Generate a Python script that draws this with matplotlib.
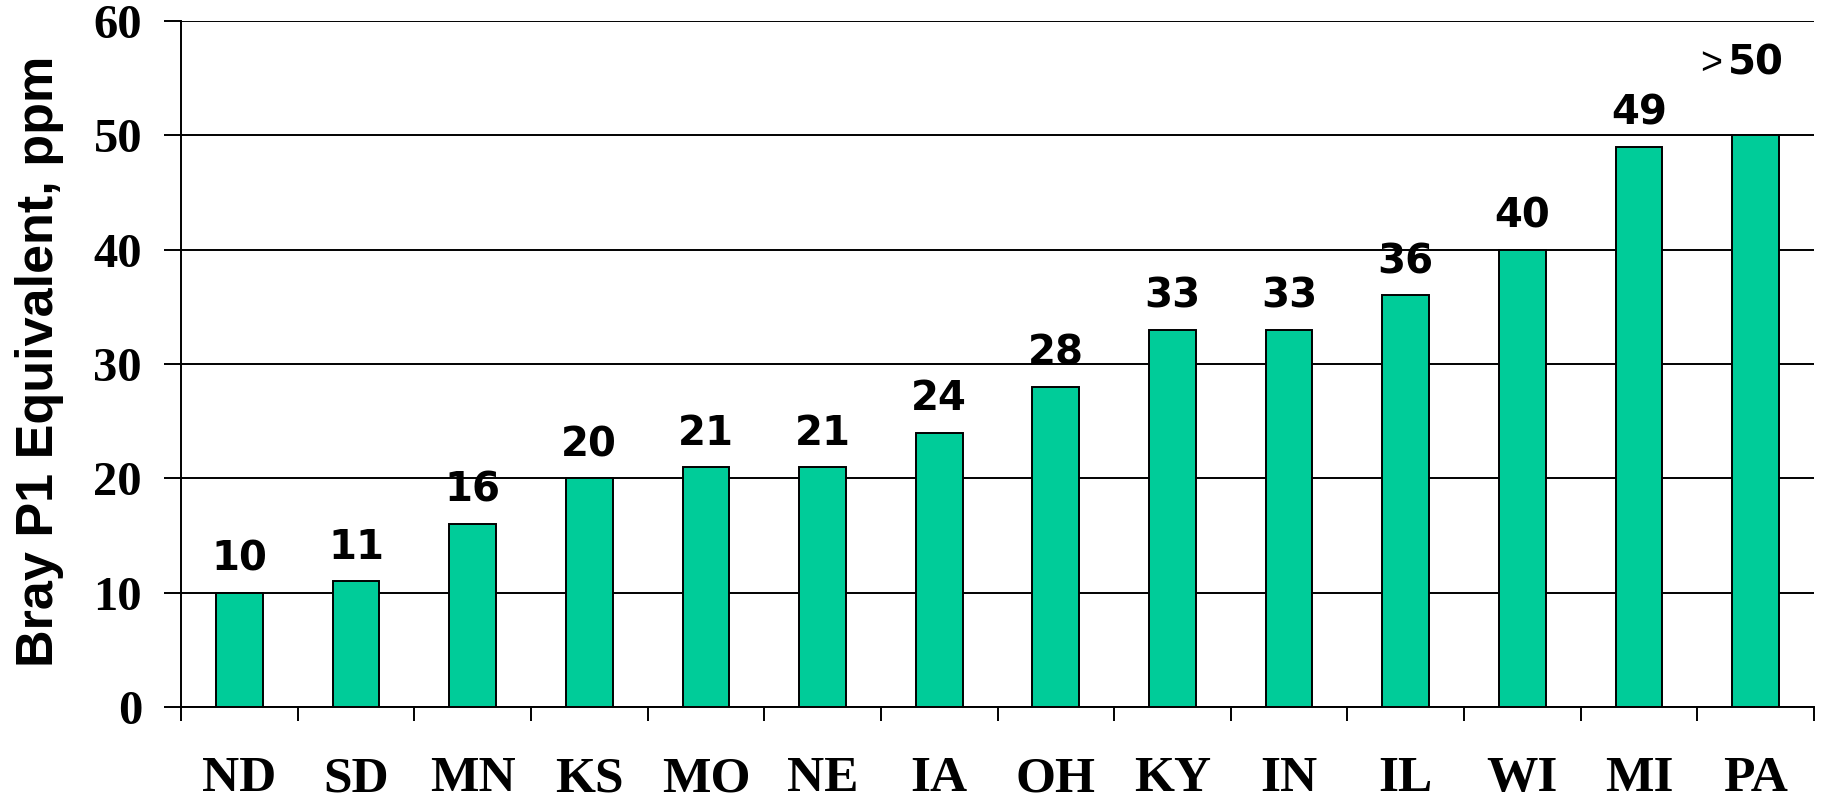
import matplotlib
matplotlib.use('Agg')
import matplotlib.pyplot as plt

# ── Daten ──────────────────────────────────────────────────────────────────────
STATES = ['ND', 'SD', 'MN', 'KS', 'MO', 'NE', 'IA', 'OH', 'KY', 'IN', 'IL', 'WI', 'MI', 'PA']
VALUES = [10, 11, 16, 20, 21, 21, 24, 28, 33, 33, 36, 40, 49, 50]
VALUE_LABELS = ['10', '11', '16', '20', '21', '21', '24', '28', '33', '33', '36', '40', '49', '>50']
Y_TICKS = [0, 10, 20, 30, 40, 50, 60]

BAR_COLOR = '#00CC99'
LW = 1.4

# ── Diagramm ───────────────────────────────────────────────────────────────────
fig = plt.figure(figsize=(18.23, 8.0), dpi=100, facecolor='white')
ax = fig.add_axes([181 / 1823, 93 / 800, (1814 - 181) / 1823, (707 - 21) / 800])

x = list(range(len(STATES)))
ax.bar(x, VALUES, width=0.4, color=BAR_COLOR, edgecolor='black', linewidth=LW, zorder=3)

ax.set_xlim(-0.5, len(STATES) - 0.5)
ax.set_ylim(0, 60)
ax.set_yticks(Y_TICKS)
ax.yaxis.grid(True, color='black', linewidth=LW, zorder=0)
ax.set_axisbelow(True)

for side in ('top', 'right'):
    ax.spines[side].set_visible(False)
for side in ('left', 'bottom'):
    ax.spines[side].set_linewidth(LW)

# Kategorie-Ticks zwischen den Balken, Beschriftung mittig
ax.set_xticks([i - 0.5 for i in range(len(STATES) + 1)])
ax.set_xticklabels([])
ax.set_xticks(x, minor=True)
ax.set_xticklabels(STATES, minor=True)
ax.tick_params(axis='x', which='major', direction='out', length=10, width=LW)
ax.tick_params(axis='x', which='minor', length=0, pad=35.5)
ax.tick_params(axis='y', direction='out', length=12, width=LW, pad=16)

for lbl in ax.get_xticklabels(minor=True):
    lbl.set_fontfamily('Liberation Serif')
    lbl.set_fontweight('bold')
    lbl.set_fontsize(37)
for lbl in ax.get_yticklabels():
    lbl.set_fontfamily('Liberation Serif')
    lbl.set_fontweight('bold')
    lbl.set_fontsize(35)

# ── Wertbeschriftungen ─────────────────────────────────────────────────────────
for xi, val, txt in zip(x, VALUES, VALUE_LABELS):
    if txt.startswith('>'):
        ax.annotate(txt[1:], xy=(xi, val), xytext=(0, 44), textcoords='offset points',
                    ha='center', va='baseline', fontsize=29, fontweight='bold',
                    family='DejaVu Sans', annotation_clip=False)
        ax.annotate('>', xy=(xi, val), xytext=(-24, 44), textcoords='offset points',
                    ha='right', va='baseline', fontsize=27, family='Liberation Sans',
                    annotation_clip=False)
    else:
        ax.annotate(txt, xy=(xi, val), xytext=(0, 16), textcoords='offset points',
                    ha='center', va='baseline', fontsize=29, fontweight='bold',
                    family='DejaVu Sans')

fig.text(40 / 1823, 1 - 361 / 800, 'Bray P1 Equivalent, ppm', rotation=90,
         ha='center', va='center', fontsize=37.5, fontweight='bold',
         family='Liberation Sans')

fig.savefig('out.png', dpi=100, facecolor='white')
